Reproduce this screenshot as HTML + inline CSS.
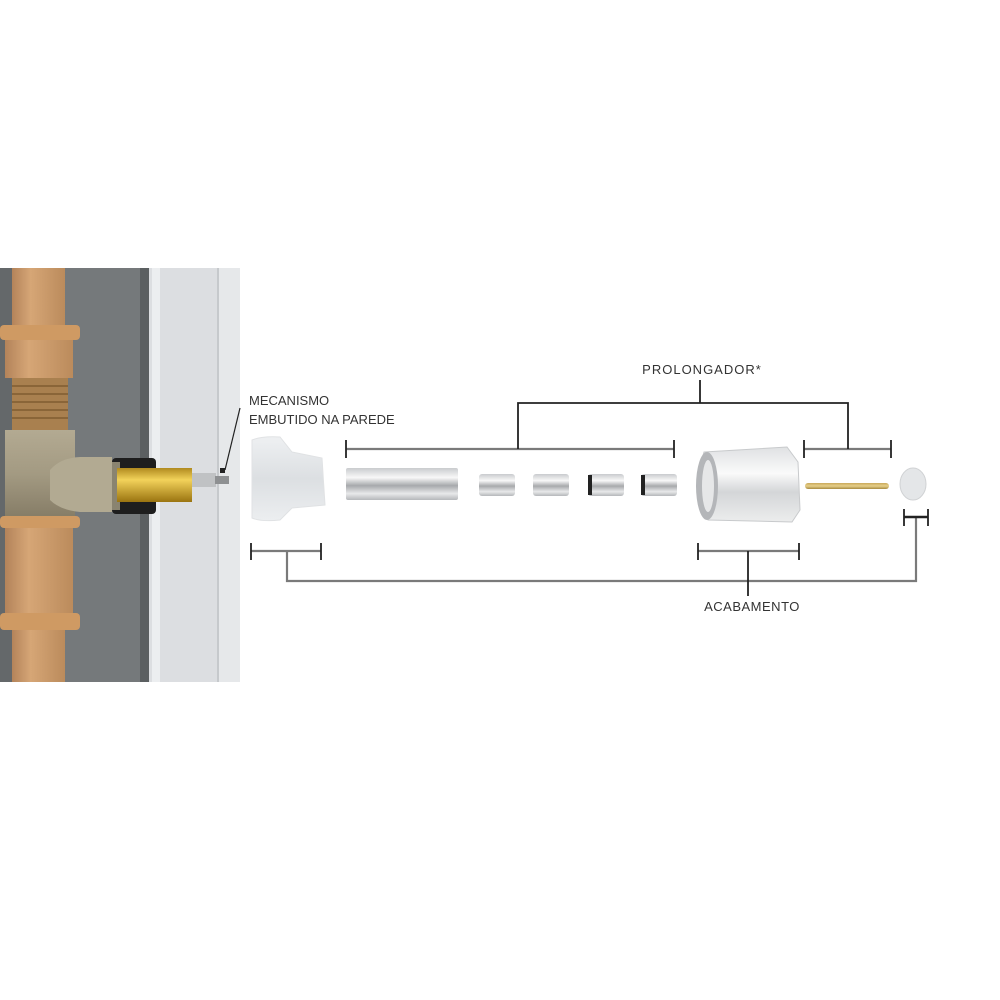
<!DOCTYPE html>
<html><head><meta charset="utf-8"><style>
html,body{margin:0;padding:0;background:#fff;}
svg{display:block;}
text{font-family:"Liberation Sans",sans-serif;fill:#333;}
</style></head><body>
<svg width="1000" height="1000" viewBox="0 0 1000 1000" xmlns="http://www.w3.org/2000/svg">
<defs>
<linearGradient id="pipe" x1="0" x2="1"><stop offset="0" stop-color="#b3835a"/><stop offset="0.35" stop-color="#d6a676"/><stop offset="1" stop-color="#bb8b5c"/></linearGradient>
<linearGradient id="tee" x1="0" y1="0" x2="0" y2="1"><stop offset="0" stop-color="#b3aa92"/><stop offset="0.5" stop-color="#a39a82"/><stop offset="1" stop-color="#857c66"/></linearGradient>
<linearGradient id="brass" x1="0" y1="0" x2="0" y2="1"><stop offset="0" stop-color="#b08a1e"/><stop offset="0.35" stop-color="#f2d25a"/><stop offset="1" stop-color="#9a7410"/></linearGradient>
<linearGradient id="chrome" x1="0" y1="0" x2="0" y2="1"><stop offset="0" stop-color="#c9cbce"/><stop offset="0.3" stop-color="#f8f8f8"/><stop offset="0.55" stop-color="#a7a9ac"/><stop offset="0.8" stop-color="#e8e9ea"/><stop offset="1" stop-color="#b5b7ba"/></linearGradient>
<linearGradient id="ghost" x1="0" y1="0" x2="0" y2="1"><stop offset="0" stop-color="#eef0f2"/><stop offset="0.5" stop-color="#dcdfe2"/><stop offset="1" stop-color="#eceef0"/></linearGradient>
<linearGradient id="cap" x1="0" y1="0" x2="0" y2="1"><stop offset="0" stop-color="#dfe1e3"/><stop offset="0.35" stop-color="#fafafa"/><stop offset="0.6" stop-color="#d4d6d8"/><stop offset="1" stop-color="#eceded"/></linearGradient>
<linearGradient id="rod" x1="0" y1="0" x2="0" y2="1"><stop offset="0" stop-color="#c9a85a"/><stop offset="0.5" stop-color="#e6cf8a"/><stop offset="1" stop-color="#a88a40"/></linearGradient>
</defs>

<rect x="0" y="268" width="240" height="414" fill="#75797b"/>
<rect x="0" y="268" width="12" height="414" fill="#64686a"/>
<rect x="12" y="268" width="53" height="414" fill="url(#pipe)"/>
<rect x="140" y="268" width="9" height="414" fill="#5b5f61"/>
<rect x="149" y="268" width="91" height="414" fill="#dcdee1"/>
<rect x="152" y="268" width="8" height="414" fill="#eceef0"/>
<rect x="217" y="268" width="2" height="414" fill="#c6c9cc"/>
<rect x="219" y="268" width="21" height="414" fill="#e6e8ea"/>
<rect x="0" y="325" width="80" height="15" rx="4" fill="#cf9a63"/>
<rect x="5" y="340" width="68" height="38" fill="url(#pipe)"/>
<rect x="12" y="378" width="56" height="52" fill="#a9804f"/>
<g stroke="#8a6538" stroke-width="2"><line x1="12" y1="386" x2="68" y2="386"/><line x1="12" y1="394" x2="68" y2="394"/><line x1="12" y1="402" x2="68" y2="402"/><line x1="12" y1="410" x2="68" y2="410"/><line x1="12" y1="418" x2="68" y2="418"/></g>
<rect x="5" y="430" width="70" height="88" fill="url(#tee)"/>
<rect x="0" y="516" width="80" height="12" rx="4" fill="#cf9a63"/>
<rect x="5" y="528" width="68" height="85" fill="url(#pipe)"/>
<rect x="0" y="613" width="80" height="17" rx="4" fill="#cf9a63"/>
<path d="M50 470 Q60 458 80 457 L112 457 L112 512 L80 512 Q60 510 50 500Z" fill="#b2aa92"/>
<rect x="112" y="458" width="44" height="56" rx="4" fill="#1e1e1e"/>
<rect x="112" y="462" width="8" height="48" fill="#8a8470"/>
<rect x="117" y="468" width="75" height="34" fill="url(#brass)"/>
<rect x="192" y="473" width="24" height="14" fill="#c0c2c4"/>
<rect x="215" y="476" width="14" height="8" fill="#8e9092"/>
<rect x="220" y="468" width="5" height="5" fill="#222"/>
<line x1="240" y1="408" x2="225" y2="470" stroke="#222" stroke-width="1.2"/>

<text x="249" y="405" font-size="13">MECANISMO</text>
<text x="249" y="424" font-size="13">EMBUTIDO NA PAREDE</text>

<path d="M252 440 Q262 436 280 437 L292 452 L322 458 L325 505 L292 508 L280 520 Q262 522 252 518Z" fill="url(#ghost)" stroke="#e0e2e4"/>
<rect x="346" y="468" width="112" height="32" rx="2" fill="url(#chrome)"/>
<g>
<rect x="479" y="474" width="36" height="22" rx="3" fill="url(#chrome)"/>
<rect x="533" y="474" width="36" height="22" rx="3" fill="url(#chrome)"/>
<rect x="588" y="474" width="36" height="22" rx="3" fill="url(#chrome)"/>
<rect x="641" y="474" width="36" height="22" rx="3" fill="url(#chrome)"/>
<rect x="588" y="475" width="4" height="20" fill="#222"/>
<rect x="641" y="475" width="4" height="20" fill="#222"/>
</g>
<path d="M704 452 L787 447 L798 462 L800 510 L792 522 L708 520 Q692 490 704 452Z" fill="url(#cap)" stroke="#c8cacc"/>
<ellipse cx="707" cy="486" rx="11" ry="34" fill="#b4b6b9"/>
<ellipse cx="708" cy="486" rx="6" ry="26" fill="#e6e7e8"/>
<rect x="805" y="483" width="84" height="6" rx="3" fill="url(#rod)"/>
<ellipse cx="913" cy="484" rx="13" ry="16" fill="#e4e6e8" stroke="#d0d2d4"/>

<g stroke="#7a7a7a" stroke-width="2.2" fill="none">
<line x1="346" y1="449" x2="674" y2="449"/>
<line x1="804" y1="449" x2="891" y2="449"/>
<line x1="251" y1="551" x2="321" y2="551"/>
<line x1="698" y1="551" x2="799" y2="551"/>
<polyline points="287,551 287,581 916,581 916,517"/>
</g>
<g stroke="#222" stroke-width="1.8" fill="none">
<line x1="346" y1="440" x2="346" y2="458"/><line x1="674" y1="440" x2="674" y2="458"/>
<line x1="804" y1="440" x2="804" y2="458"/><line x1="891" y1="440" x2="891" y2="458"/>
<line x1="251" y1="543" x2="251" y2="560"/><line x1="321" y1="543" x2="321" y2="560"/>
<line x1="698" y1="543" x2="698" y2="560"/><line x1="799" y1="543" x2="799" y2="560"/>
<line x1="904" y1="509" x2="904" y2="526"/><line x1="928" y1="509" x2="928" y2="526"/>
<line x1="904" y1="517" x2="928" y2="517" stroke-width="2.4"/>
<line x1="700" y1="380" x2="700" y2="403"/>
<polyline points="518,449 518,403 848,403 848,449"/>
<line x1="748" y1="551" x2="748" y2="596"/>
</g>
<text x="702" y="374" font-size="13" text-anchor="middle" letter-spacing="1">PROLONGADOR*</text>
<text x="752" y="611" font-size="13" text-anchor="middle" letter-spacing="0.5">ACABAMENTO</text>
</svg>
</body></html>
